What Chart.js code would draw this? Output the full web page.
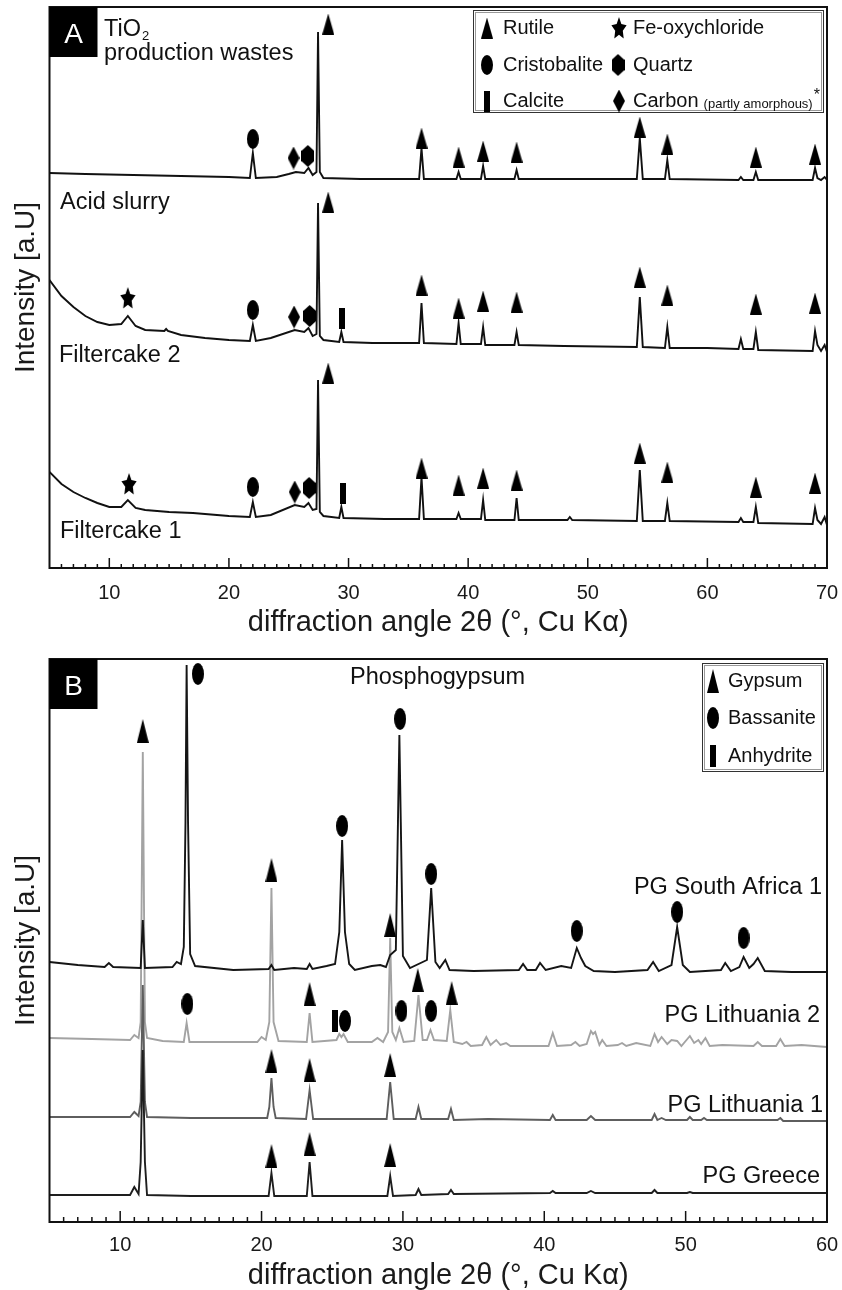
<!DOCTYPE html>
<html>
<head>
<meta charset="utf-8">
<script src="https://cdn.jsdelivr.net/npm/chart.js@4.4.1/dist/chart.umd.min.js"></script>
<style>
  html, body { margin: 0; padding: 0; background: #fff; overflow: hidden; }
  #wrapA { position: absolute; left: 0; top: 0; width: 842px; height: 637px; }
  #wrapB { position: absolute; left: 0; top: 637px; width: 842px; height: 653px; }
</style>
</head>
<body>
<div id="wrapA"><canvas id="chartA" width="842" height="637"></canvas></div>
<div id="wrapB"><canvas id="chartB" width="842" height="653"></canvas></div>
<script>
const FONT = '"Liberation Sans", Arial, Helvetica, sans-serif';
Chart.defaults.font.family = FONT;
Chart.defaults.color = '#1a1a1a';

// ---------- panel A : TiO2 production wastes (2theta, intensity a.u.) ----------
const xTicksA = [10, 20, 30, 40, 50, 60, 70];

const acidSlurry = [
  [5,395],[8,394],[12,393],[16,392],[20,391],[21.75,390],[22,415],[22.25,390],[24,391],[25,394],[25.6,396],
  [26.3,395],[26.65,400],[27,393],[27.32,396],[27.45,536],[27.6,396],[27.9,390],[31,389],[35.9,389],[36.1,420],
  [36.3,389],[39.02,389],[39.2,396],[39.38,389],[41.07,389],[41.25,402],[41.43,389],[43.87,389],[44.05,398],
  [44.23,389],[50,389],[54.1,389],[54.35,430],[54.6,389],[56.45,389],[56.65,408],[56.85,389],[62.6,388],
  [62.8,391],[63,388],[63.85,388],[64.05,396],[64.25,388],[68.8,388],[69,400],[69.2,390],[69.5,388],[69.8,391],[70,388]
];
const filtercake2 = [
  [5,288],[6,272],[7,261],[8,252],[9,246],[10,243],[11,244],[11.55,252],[12.2,242],[13,238],[14.6,237],[14.75,239],
  [14.9,237],[16,233],[18,230],[20,228],[21.75,227],[22,243],[22.25,227],[23.5,230],[25.5,238],[26.3,236],[26.65,240],
  [27,232],[27.32,234],[27.45,365],[27.6,232],[27.9,228],[29.22,226],[29.4,236],[29.58,226],[32,225],[35.9,225],
  [36.1,265],[36.3,225],[39.02,224],[39.2,245],[39.38,224],[41.07,224],[41.25,241],[41.43,223],[43.87,223],[44.05,236],
  [44.23,223],[48,222],[54.1,221],[54.35,271],[54.6,221],[56.45,220],[56.65,241],[56.85,220],[60,220],[62.6,219],
  [62.8,229],[63,219],[63.85,219],[64.05,236],[64.25,218],[68.8,217],[69,237],[69.2,223],[69.5,217],[69.8,223],[70,216]
];
const filtercake1 = [
  [5,96],[6,84],[7,76],[8,70],[9,65],[10,61],[11,61],[11.55,68],[12.2,60],[13,58],[15,56],[17,55],[20,52],[21.75,51],
  [22,66],[22.25,51],[23.5,53],[25.5,63],[26.3,61],[26.65,65],[27,58],[27.32,59],[27.45,188],[27.6,56],[27.9,52],
  [29.22,50],[29.4,61],[29.58,50],[33,49],[35.9,49],[36.1,91],[36.3,49],[39.02,49],[39.2,55],[39.38,49],[41.07,49],
  [41.25,68],[41.43,48],[43.87,48],[44.05,70],[44.23,48],[48.3,48],[48.5,51],[48.7,48],[54.1,47],[54.35,98],[54.6,47],
  [56.45,47],[56.65,65],[56.85,47],[62.6,46],[62.8,50],[63,46],[63.85,46],[64.05,61],[64.25,45],[68.8,44],[69,60],
  [69.2,48],[69.5,44],[69.8,51],[70,43]
];

// phase markers, panel A
const rutileA = [
  [28.3,544],[36.1,430],[39.2,411],[41.25,417],[44.05,416],[54.35,441],[56.65,424],[64.05,411],[69.0,414],
  [28.3,366],[36.1,283],[39.2,260],[41.25,267],[44.05,266],[54.35,291],[56.65,273],[64.05,264],[69.0,265],
  [28.3,195],[36.1,100],[39.2,83],[41.25,90],[44.05,88],[54.35,115],[56.65,96],[64.05,81],[69.0,85]
];
const cristobaliteA = [[22,429],[22,258],[22,81]];
const carbonA = [[25.4,410],[25.45,251],[25.5,76]];
const quartzA = [[26.6,412],[26.75,252],[26.7,80]];
const feOxychlorideA = [[11.55,270],[11.65,84]];
const calciteA = [[29.45,250],[29.5,75]];

// ---------- panel B : phosphogypsum ----------
const xTicksB = [10, 20, 30, 40, 50, 60];

const pgSouthAfrica = [
  [5,260],[7,257],[8.9,255],[9.2,259],[9.5,255],[11.45,254],[11.6,302],[11.75,254],[13.7,255],[14.0,260],[14.3,258],
  [14.5,275],[14.62,400],[14.7,557],[14.8,400],[14.95,268],[15.3,256],[18,252],[20.5,253],[20.7,257],[20.9,252],
  [22.3,254],[23.2,253],[23.4,258],[23.6,253],[24.6,256],[25.2,258],[25.5,290],[25.7,382],[25.9,290],[26.2,258],
  [26.6,252],[27.8,256],[28.4,257],[28.8,255],[29.1,267],[29.5,272],[29.65,400],[29.75,487],[29.85,400],[30.0,266],
  [30.5,254],[31.7,262],[32.0,334],[32.3,260],[32.6,254],[33.0,262],[33.3,252],[35,251],[38.2,252],[38.5,258],
  [38.8,252],[39.4,252],[39.7,259],[40.1,252],[41.2,256],[41.9,254],[42.3,274],[42.6,264],[42.9,256],[43.5,251],
  [45,250],[47.3,252],[47.7,260],[48.1,251],[49.0,257],[49.4,295],[49.8,257],[50.3,250],[52.5,252],[52.8,259],
  [53.2,251],[53.8,255],[54.1,265],[54.5,254],[54.8,258],[55.1,264],[55.6,251],[57.5,250],[60,250]
];
const pgLithuania2 = [
  [5,184],[8,183],[10.7,182],[11.0,187],[11.3,184],[11.45,200],[11.6,470],[11.75,200],[11.9,184],[13,181],[14.5,180],
  [14.7,199],[14.9,180],[19.7,180],[20.0,185],[20.3,182],[20.55,200],[20.7,334],[20.85,200],[21.2,181],[23.2,180],
  [23.4,209],[23.6,180],[25.3,182],[25.5,188],[25.65,185],[25.8,188],[26.1,180],[27.8,180],[28.2,184],[28.6,180],
  [28.95,190],[29.1,284],[29.25,190],[29.5,182],[29.75,194],[30.05,180],[30.8,181],[31.1,227],[31.4,182],[31.7,182],
  [31.95,192],[32.2,182],[33.1,181],[33.35,212],[33.6,180],[34.2,178],[34.5,180],[34.8,176],[35.6,177],[35.9,185],
  [36.2,177],[36.6,182],[36.9,177],[37.3,179],[37.6,176],[40.3,176],[40.6,189],[40.9,176],[41.9,177],[42.2,180],
  [42.5,176],[43.0,178],[43.3,191],[43.45,188],[43.6,190],[43.9,177],[44.1,182],[44.4,176],[45.2,177],[45.5,179],
  [45.8,176],[46.5,179],[47.5,176],[47.8,188],[48.05,180],[48.3,185],[48.7,178],[49.0,182],[49.4,181],[49.7,176],
  [50.3,186],[50.6,179],[50.9,182],[51.1,178],[51.4,184],[51.7,176],[52.6,177],[54.8,176],[55.1,180],[55.4,176],
  [56.4,176],[56.7,183],[57.0,176],[58.2,177],[60,175]
];
const pgLithuania1 = [
  [5,105],[10.7,105],[11.0,110],[11.3,106],[11.45,120],[11.6,237],[11.75,120],[11.9,105],[15,104],[20.4,104],
  [20.55,115],[20.7,144],[20.85,115],[21.0,104],[23.15,103],[23.4,132],[23.65,103],[27.8,103],[28.85,103],[29.1,140],
  [29.35,103],[30.9,103],[31.1,115],[31.3,103],[33.2,103],[33.4,113],[33.6,102],[36,103],[40.4,102],[40.6,107],
  [40.8,102],[43.0,102],[43.3,106],[43.6,102],[47.6,102],[47.8,108],[48.0,102],[48.3,104],[48.6,102],[50.1,102],
  [50.3,105],[50.5,102],[51.1,102],[51.3,104],[51.5,102],[56.5,102],[56.7,104],[56.9,101],[60,101]
];
const pgGreece = [
  [5,27],[10.7,27],[11.0,35],[11.3,28],[11.45,60],[11.6,172],[11.75,60],[11.9,27],[15,26],[20.5,26],[20.7,49],
  [20.9,26],[23.2,26],[23.4,60],[23.6,26],[28.9,26],[29.1,46],[29.3,26],[30.9,27],[31.1,33],[31.3,27],[33.2,28],
  [33.4,32],[33.6,28],[40.4,29],[40.6,31],[40.8,29],[43.0,29],[43.3,31],[43.6,29],[47.6,29],[47.8,32],[48.0,29],
  [50.1,29],[50.3,30],[50.5,29],[60,29]
];

// phase markers, panel B
const gypsumB = [
  [11.6,491],[20.7,352],[23.4,228],[29.1,297],[31.05,242],[33.45,229],
  [20.7,161],[23.4,152],[29.1,157],
  [20.7,66],[23.4,78],[29.1,67]
];
const bassaniteB = [
  [15.5,548],[25.7,396],[29.8,503],[32.0,348],[42.3,291],[49.4,310],[54.1,284],
  [14.75,218],[25.9,201],[29.9,211],[32.0,211]
];
const anhydriteB = [[25.2,201]];

// ---------- marker glyphs ----------
function shape(kind, w, h) {
  const c = document.createElement('canvas');
  c.width = w; c.height = h;
  const g = c.getContext('2d');
  g.fillStyle = '#000';
  g.beginPath();
  if (kind === 'triangle') {
    g.moveTo(w / 2, 0); g.lineTo(w, h); g.lineTo(0, h);
  } else if (kind === 'ellipse') {
    g.ellipse(w / 2, h / 2, w / 2, h / 2, 0, 0, Math.PI * 2);
  } else if (kind === 'diamond') {
    g.moveTo(w / 2, 0); g.lineTo(w, h / 2); g.lineTo(w / 2, h); g.lineTo(0, h / 2);
  } else if (kind === 'hexagon') {
    g.moveTo(w / 2, 0); g.lineTo(w, h * 0.27); g.lineTo(w, h * 0.73);
    g.lineTo(w / 2, h); g.lineTo(0, h * 0.73); g.lineTo(0, h * 0.27);
  } else if (kind === 'bar') {
    g.rect(0, 0, w, h);
  } else if (kind === 'star') {
    const cx = w / 2, cy = h * 0.54;
    for (let i = 0; i < 10; i++) {
      const ang = -Math.PI / 2 + i * Math.PI / 5;
      const r = i % 2 ? 0.5 : 1;
      const px = cx + Math.cos(ang) * (w / 2) * r;
      const py = cy + Math.sin(ang) * (h * 0.54) * r;
      if (i === 0) g.moveTo(px, py); else g.lineTo(px, py);
    }
  }
  g.closePath();
  g.fill();
  return c;
}

const G = {
  triA: shape('triangle', 12, 21),
  ellA: shape('ellipse', 12, 20),
  diaA: shape('diamond', 12, 23),
  hexA: shape('hexagon', 13, 22),
  starA: shape('star', 16, 22),
  barA: shape('bar', 6, 21),
  triB: shape('triangle', 12, 24),
  ellB: shape('ellipse', 12, 22),
  barB: shape('bar', 6, 22)
};

const xy = arr => arr.map(([x, y]) => ({ x, y }));

function lineSet(arr, color) {
  return { data: xy(arr), showLine: true, borderColor: color, borderWidth: 1.9,
           pointRadius: 0, tension: 0, fill: false, order: 1 };
}
function markSet(arr, glyph) {
  return { data: xy(arr), showLine: false, pointStyle: glyph, pointRadius: 6, order: 0 };
}

// ---------- frame, inward ticks, labels, legend ----------
const decor = {
  id: 'decor',
  afterDatasetsDraw(chart, args, o) {
    const { ctx, chartArea: a } = chart;
    const x = chart.scales.x;
    ctx.save();

    ctx.strokeStyle = '#111';
    ctx.lineWidth = 1.5;
    for (let v = Math.ceil(x.min); v < x.max; v++) {
      if (v <= x.min) continue;
      const px = x.getPixelForValue(v);
      const len = v % 10 === 0 ? o.major : o.minor;
      ctx.beginPath();
      ctx.moveTo(px, a.bottom);
      ctx.lineTo(px, a.bottom - len);
      ctx.stroke();
    }

    ctx.lineWidth = 2;
    ctx.strokeRect(a.left, a.top, a.right - a.left, a.bottom - a.top);

    // panel letter
    ctx.fillStyle = '#000';
    ctx.fillRect(a.left, a.top, 48, 50);
    ctx.fillStyle = '#fff';
    ctx.font = '28px ' + FONT;
    ctx.textAlign = 'center';
    ctx.textBaseline = 'alphabetic';
    ctx.fillText(o.letter, a.left + 24, a.top + 36);

    // sample labels
    ctx.fillStyle = '#111';
    o.labels.forEach(l => {
      ctx.font = '23.5px ' + FONT;
      ctx.textAlign = l.right ? 'right' : 'left';
      const px = l.right ? a.right + l.dx : a.left + l.dx;
      ctx.fillText(l.text, px, a.top + l.dy);
      if (l.sub) {
        const w = ctx.measureText(l.text).width;
        ctx.font = '13px ' + FONT;
        ctx.fillText(l.sub, px + w + 1, a.top + l.dy + 4);
      }
    });

    // legend box
    const L = o.legend;
    const bx = a.right - L.inset - L.w, by = a.top + L.top;
    ctx.lineWidth = 1;
    ctx.strokeStyle = '#333';
    ctx.strokeRect(bx + 0.5, by + 0.5, L.w, L.h);
    ctx.strokeStyle = '#999';
    ctx.strokeRect(bx + 2.5, by + 2.5, L.w - 4, L.h - 4);
    ctx.textAlign = 'left';
    ctx.textBaseline = 'middle';
    ctx.fillStyle = '#111';
    L.items.forEach(it => {
      const g = it.glyph;
      ctx.drawImage(g, bx + it.mx - g.width / 2, by + it.y - g.height / 2);
      ctx.font = '20px ' + FONT;
      ctx.fillText(it.text, bx + it.tx, by + it.y);
      if (it.note) {
        const w = ctx.measureText(it.text).width;
        ctx.font = '13px ' + FONT;
        ctx.fillText(it.note, bx + it.tx + w + 5, by + it.y + 3);
        const w2 = ctx.measureText(it.note).width;
        ctx.font = '16px ' + FONT;
        ctx.fillText('*', bx + it.tx + w + 6 + w2, by + it.y - 5);
      }
    });
    ctx.restore();
  }
};

function makeChart(id, cfg) {
  return new Chart(document.getElementById(id), {
    type: 'scatter',
    data: { datasets: cfg.datasets },
    options: {
      responsive: false,
      animation: false,
      events: [],
      layout: { padding: { left: 12, right: 15, top: cfg.top, bottom: 0 } },
      scales: {
        x: {
          type: 'linear', min: cfg.xMin, max: cfg.xMax,
          afterBuildTicks: s => { s.ticks = cfg.xTicks.map(v => ({ value: v })); },
          afterFit: s => { s.height = cfg.xHeight; s.paddingLeft = 0; s.paddingRight = 0; },
          grid: { display: false, drawTicks: false },
          border: { display: false },
          ticks: { padding: cfg.tickPad, color: '#1a1a1a', font: { size: 20, lineHeight: 1.2 } },
          title: { display: true, text: 'diffraction angle 2θ (°, Cu Kα)', color: '#1a1a1a',
                   font: { size: 29, lineHeight: 1 }, padding: { top: 0, bottom: 0 } }
        },
        y: {
          min: 0, max: cfg.yMax,
          afterFit: s => { s.width = 37.5; },
          grid: { display: false, drawTicks: false },
          border: { display: false },
          ticks: { display: false },
          title: { display: true, text: 'Intensity [a.U]', color: '#1a1a1a',
                   font: { size: 28, lineHeight: 1 }, padding: { top: 0, bottom: 0 } }
        }
      },
      plugins: {
        legend: { display: false },
        tooltip: { enabled: false },
        decor: cfg.decor
      }
    },
    plugins: [decor]
  });
}

makeChart('chartA', {
  xMin: 5, xMax: 70, xTicks: xTicksA, yMax: 561, top: 7, xHeight: 69, tickPad: 13,
  datasets: [
    markSet(rutileA, G.triA), markSet(cristobaliteA, G.ellA), markSet(carbonA, G.diaA),
    markSet(quartzA, G.hexA), markSet(feOxychlorideA, G.starA), markSet(calciteA, G.barA),
    lineSet(acidSlurry, '#111'), lineSet(filtercake2, '#111'), lineSet(filtercake1, '#111')
  ],
  decor: {
    letter: 'A', major: 10, minor: 4,
    labels: [
      { text: 'TiO', dx: 54.5, dy: 29, sub: '2' },
      { text: 'production wastes', dx: 54.5, dy: 53 },
      { text: 'Acid slurry', dx: 10.5, dy: 202 },
      { text: 'Filtercake 2', dx: 9.5, dy: 355 },
      { text: 'Filtercake 1', dx: 10.5, dy: 531 }
    ],
    legend: {
      inset: 4, top: 3, w: 350, h: 102,
      items: [
        { glyph: G.triA, mx: 14, tx: 30, y: 18, text: 'Rutile' },
        { glyph: G.ellA, mx: 14, tx: 30, y: 55, text: 'Cristobalite' },
        { glyph: G.barA, mx: 14, tx: 30, y: 91, text: 'Calcite' },
        { glyph: G.starA, mx: 146, tx: 160, y: 18, text: 'Fe-oxychloride' },
        { glyph: G.hexA, mx: 145, tx: 160, y: 55, text: 'Quartz' },
        { glyph: G.diaA, mx: 146, tx: 160, y: 91, text: 'Carbon', note: '(partly amorphous)' }
      ]
    }
  }
});

makeChart('chartB', {
  xMin: 5, xMax: 60, xTicks: xTicksB, yMax: 563, top: 22, xHeight: 68, tickPad: 11,
  datasets: [
    markSet(gypsumB, G.triB), markSet(bassaniteB, G.ellB), markSet(anhydriteB, G.barB),
    lineSet(pgGreece, '#1e1e1e'), lineSet(pgLithuania1, '#5e5e5e'),
    lineSet(pgSouthAfrica, '#151515'), lineSet(pgLithuania2, '#a3a3a3')
  ],
  decor: {
    letter: 'B', major: 11, minor: 5,
    labels: [
      { text: 'Phosphogypsum', dx: 300.5, dy: 25 },
      { text: 'PG South Africa 1', dx: -5, dy: 235, right: true },
      { text: 'PG Lithuania 2', dx: -7, dy: 363, right: true },
      { text: 'PG Lithuania 1', dx: -4, dy: 453, right: true },
      { text: 'PG Greece', dx: -7, dy: 524, right: true }
    ],
    legend: {
      inset: 4, top: 4, w: 121, h: 108,
      items: [
        { glyph: G.triB, mx: 11, tx: 26, y: 18, text: 'Gypsum' },
        { glyph: G.ellB, mx: 11, tx: 26, y: 55, text: 'Bassanite' },
        { glyph: G.barB, mx: 11, tx: 26, y: 93, text: 'Anhydrite' }
      ]
    }
  }
});
</script>
</body>
</html>
